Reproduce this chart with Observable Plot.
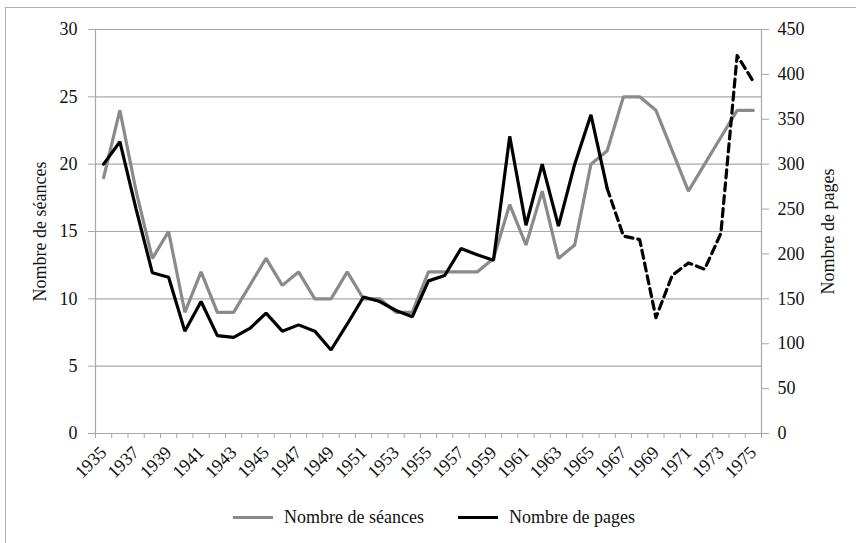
<!DOCTYPE html>
<html>
<head>
<meta charset="utf-8">
<script src="https://cdn.jsdelivr.net/npm/d3@7"></script>
<script src="https://cdn.jsdelivr.net/npm/@observablehq/plot@0.6"></script>
<style>
  html, body { margin: 0; padding: 0; background: #fff; }
  #wrap { position: relative; width: 856px; height: 543px; overflow: hidden; font-family: "Liberation Serif", "Times New Roman", "DejaVu Serif", serif; }
  #frame { position: absolute; left: 5px; top: 7px; width: 900px; height: 600px; border: 1px solid #b0b0b0; box-sizing: border-box; }
  #chart { position: absolute; left: 0; top: 0; }
  #chart svg, #chart svg text { font-family: "Liberation Serif", "Times New Roman", "DejaVu Serif", serif !important; font-size: 18px; }
  .leg { position: absolute; top: 507px; font-size: 18px; color: #111; display: flex; align-items: center; white-space: nowrap; font-family: "Liberation Serif", "Times New Roman", "DejaVu Serif", serif; }
  .sw { display: inline-block; width: 40px; height: 3px; margin-right: 11px; }
</style>
</head>
<body>
<div id="wrap">
  <div id="frame"></div>
  <div id="chart"></div>
  <div class="leg" style="left:233px"><span class="sw" style="background:#8a8a8a"></span>Nombre de séances</div>
  <div class="leg" style="left:458px"><span class="sw" style="background:#000"></span>Nombre de pages</div>
</div>
<script>
const years = [1935,1936,1937,1938,1939,1940,1941,1942,1943,1944,1945,1946,1947,1948,1949,1950,1951,1952,1953,1954,1955,1956,1957,1958,1959,1960,1961,1962,1963,1964,1965,1966,1967,1968,1969,1970,1971,1972,1973,1974,1975];
const seances = [19,24,18,13,15,9,12,9,9,11,13,11,12,10,10,12,10,10,9,9,12,12,12,12,13,17,14,18,13,14,20,21,25,25,24,21,18,20,22,24,24];
const pages = [300,325,250,179,174,114,147,109,107,117,134,114,121,114,93,122,152,147,137,130,170,176,206,199,193,331,232,300,231,300,355,273,220,216,129,176,190,183,223,421,392];
const leftTicks = [0,5,10,15,20,25,30];
const rightTicks = [0,50,100,150,200,250,300,350,400,450];
const yearLabels = [1935,1937,1939,1941,1943,1945,1947,1949,1951,1953,1955,1957,1959,1961,1963,1965,1967,1969,1971,1973,1975];
const solidEnd = 1966;

const ratio = 15; // pages per séance unit (450 / 30)
const rows = years.map((y, i) => ({year: y, seances: seances[i], pages: pages[i]}));
const solidRows = rows.filter(d => d.year <= solidEnd);
const dashRows = rows.filter(d => d.year >= solidEnd);
const bounds = [years[0] - 0.5, ...years.map(y => y + 0.5)];

const grid = "#a8a8a8";
const chart = Plot.plot({
  width: 856,
  height: 490,
  marginLeft: 95,
  marginRight: 95,
  marginTop: 29,
  marginBottom: 57,
  style: {fontFamily: "'Liberation Serif', 'Times New Roman', serif", fontSize: "18px", color: "#111", background: "transparent"},
  x: {domain: [years[0] - 0.5, years[years.length - 1] + 0.5]},
  y: {domain: [0, 30]},
  marks: [
    Plot.ruleY(leftTicks.slice(1), {stroke: grid, strokeWidth: 1.2}),
    Plot.ruleX([bounds[0], bounds[bounds.length - 1]], {y1: 0, y2: 30, stroke: grid, strokeWidth: 1.2}),
    Plot.ruleY([0], {stroke: grid, strokeWidth: 1.2}),
    Plot.axisY({ticks: leftTicks, tickSize: 7, tickPadding: 11, stroke: grid, fill: "#111", fontSize: 18,
      label: "Nombre de séances", labelAnchor: "center", labelOffset: 62, labelArrow: "none"}),
    Plot.axisY({anchor: "right", ticks: rightTicks.map(v => v / ratio), tickFormat: v => String(Math.round(v * ratio)),
      tickSize: 7, tickPadding: 9, stroke: grid, fill: "#111", fontSize: 18,
      label: "Nombre de pages", labelAnchor: "center", labelOffset: 72, labelArrow: "none"}),
    Plot.axisX({ticks: bounds, tickSize: 5, tickFormat: () => "", stroke: grid, label: null}),
    Plot.axisX({ticks: yearLabels, tickSize: 0, tickPadding: 16, tickRotate: -45, tickFormat: d => String(d), fill: "#111", fontSize: 18, label: null}),
    Plot.line(rows, {x: "year", y: "seances", stroke: "#8a8a8a", strokeWidth: 3.2, strokeLinejoin: "miter"}),
    Plot.line(solidRows, {x: "year", y: d => d.pages / ratio, stroke: "#000", strokeWidth: 3.2, strokeLinejoin: "miter"}),
    Plot.line(dashRows, {x: "year", y: d => d.pages / ratio, stroke: "#000", strokeWidth: 3.2, strokeDasharray: "8,5"})
  ]
});
document.getElementById("chart").appendChild(chart);
</script>
</body>
</html>
